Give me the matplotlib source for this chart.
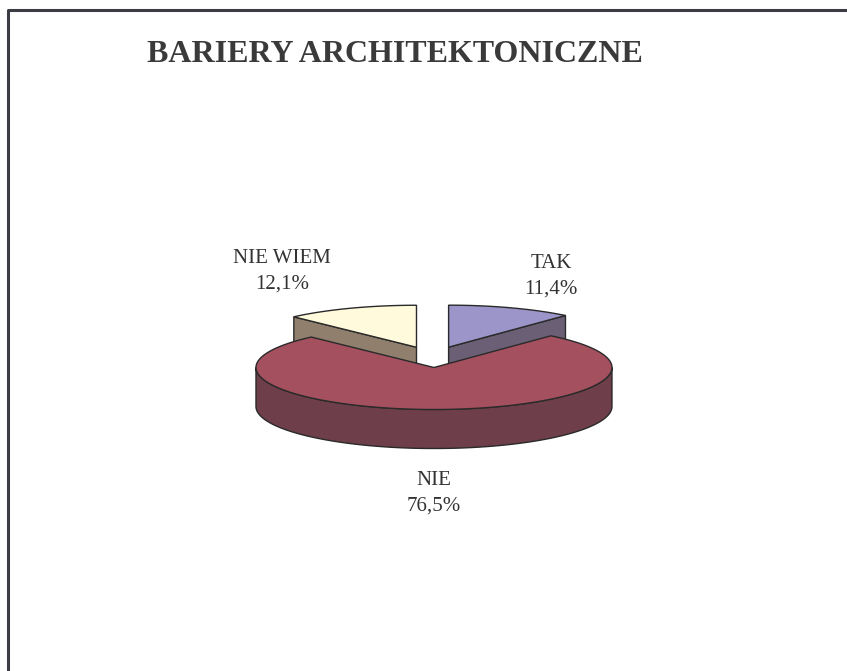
import numpy as np
import matplotlib
matplotlib.use('Agg')
import matplotlib.pyplot as plt
from matplotlib.patches import Polygon

# Dane wykresu
labels = ['TAK', 'NIE', 'NIE WIEM']
values = [11.4, 76.5, 12.1]
pct_text = ['11,4%', '76,5%', '12,1%']
top_colors = ['#9B95C9', '#A5505F', '#FFFADC']
side_colors = ['#6B5F75', '#6E3F4A', '#8F7F6C']
title = 'BARIERY ARCHITEKTONICZNE'

# Geometria "3D" (piksele)
CX, CY = 433, 357
RX, RY = 178, 42
DEPTH = 39
EXPLODE = 0.25
EDGE = '#2a2a2a'

# pozycje etykiet
label_pos = [(551, 276), (434, 493), (282, 271)]

plt.rcParams['font.family'] = ['Liberation Serif', 'DejaVu Serif']

fig = plt.figure(figsize=(8.47, 6.71), dpi=100)
ax = fig.add_axes([0, 0, 1, 1])
ax.set_xlim(0, 847)
ax.set_ylim(671, 0)
ax.axis('off')

# ramka (tylko lewa i górna krawędź widoczna)
ax.plot([8, 8, 847], [671, 10, 10], color='#3c3c44', lw=2.2, solid_capstyle='butt')


def pt(cx, cy, t, dy=0):
    r = np.radians(t)
    return cx + RX * np.cos(r), cy - RY * np.sin(r) + dy


# kąty wycinków: start na 12:00, zgodnie z ruchem wskazówek zegara
slices = []
cursor = 90.0
for i, v in enumerate(values):
    t2 = cursor
    t1 = cursor - 360.0 * v / sum(values)
    cursor = t1
    mid = np.radians((t1 + t2) / 2)
    cx = CX + EXPLODE * RX * np.cos(mid)
    cy = CY - EXPLODE * RY * np.sin(mid)
    slices.append((i, t1, t2, cx, cy, np.sin(mid)))

# od tyłu do przodu
slices.sort(key=lambda s: -s[5])

for i, t1, t2, cx, cy, _ in slices:
    # ściany boczne radialne
    for t, vis in ((t1, np.cos(np.radians(t1)) > 1e-6), (t2, np.cos(np.radians(t2)) < -1e-6)):
        if vis:
            px, py = pt(cx, cy, t)
            poly = [(cx, cy), (px, py), (px, py + DEPTH), (cx, cy + DEPTH)]
            ax.add_patch(Polygon(poly, closed=True, fc=side_colors[i], ec=EDGE, lw=1.0))
    # ściana zewnętrzna (przednia połowa)
    for k in (-1, 0, 1):
        lo = max(t1, 180 + 360 * k)
        hi = min(t2, 360 + 360 * k)
        if hi > lo:
            ts = np.linspace(lo, hi, 120)
            upper = [pt(cx, cy, t) for t in ts]
            lower = [pt(cx, cy, t, DEPTH) for t in ts[::-1]]
            ax.add_patch(Polygon(upper + lower, closed=True, fc=side_colors[i], ec=EDGE, lw=1.0))
    # wierzch
    ts = np.linspace(t1, t2, 200)
    top = [(cx, cy)] + [pt(cx, cy, t) for t in ts]
    ax.add_patch(Polygon(top, closed=True, fc=top_colors[i], ec=EDGE, lw=1.0))

# etykiety
for i, (x, y) in enumerate(label_pos):
    ax.text(x, y, labels[i] + '\n' + pct_text[i], ha='center', va='center',
            fontsize=15, color='#333333', linespacing=1.45)

ax.text(147, 54, title, ha='left', va='center', fontsize=23,
        fontweight='bold', color='#3a3a3a')

fig.savefig('out.png', dpi=100)
